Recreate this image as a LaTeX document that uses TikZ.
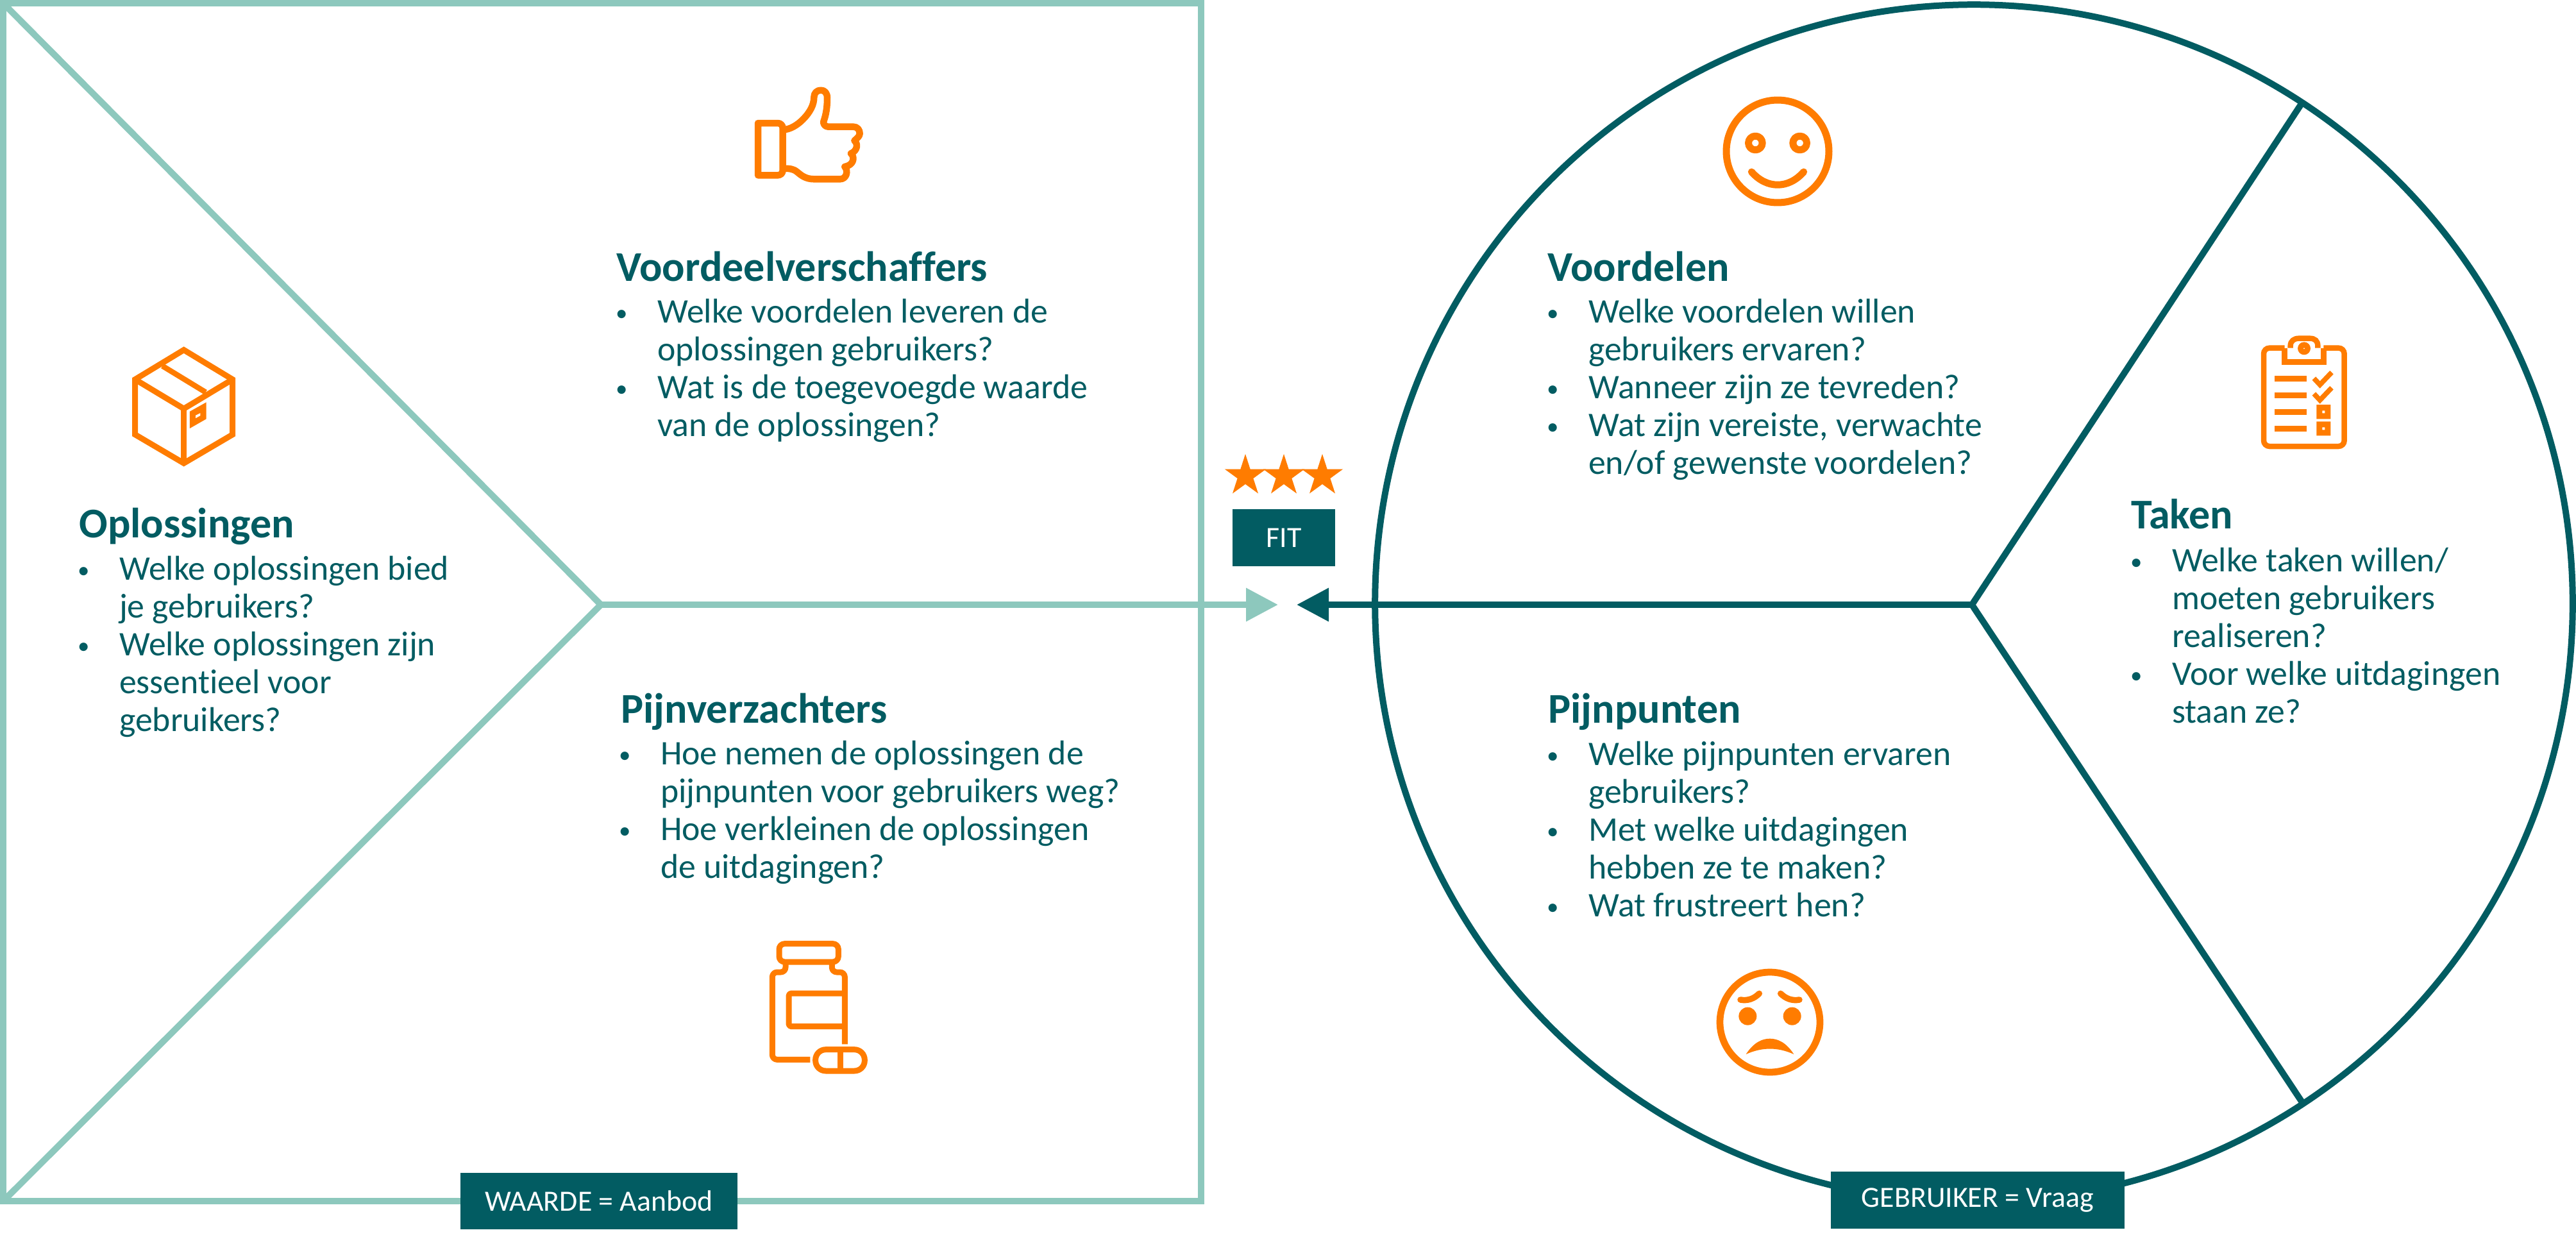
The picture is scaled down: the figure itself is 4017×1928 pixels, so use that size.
\documentclass[tikz,border=0pt]{standalone}
\usepackage{fontspec}
\setmainfont{Carlito}[Ligatures=NoCommon]
\usetikzlibrary{arrows.meta}
\definecolor{dteal}{HTML}{025C62}
\definecolor{lteal}{HTML}{8DC8BD}
\definecolor{iconor}{HTML}{FF7C00}
\newcommand{\hb}[1]{\makebox[38pt][l]{\hspace*{1pt}\raisebox{1.6pt}{\fontsize{21}{21}\selectfont •}}#1}
\newcommand{\hc}[1]{\hspace*{38pt}#1}
\newcommand{\fl}{\rule{0pt}{25pt}}
\tikzset{
  sqline/.style={draw=lteal,line width=0.2cm,line join=miter},
  cirline/.style={draw=dteal,line width=0.2cm},
  tag/.style={fill=dteal,text=white,inner sep=0,font=\fontsize{26.1}{28}\selectfont},
  ttl/.style={anchor=base west,inner sep=0,text=dteal,font=\fontsize{37.6}{40}\selectfont\bfseries},
  bodytxt/.style={anchor=north west,inner sep=0,text=dteal,align=left,font=\fontsize{30.6}{33.57}\selectfont},
  icon/.style={shift={(#1)},x=0.0066667cm,y=-0.0066667cm,draw=iconor,line width=0.18cm,line join=round},
  starshape/.pic={\fill[iconor] (0,-34)--(7.6,-10.5)--(32.3,-10.5)--(12.4,4)--(20,27.5)--(0,13)--(-20,27.5)--(-12.4,4)--(-32.3,-10.5)--(-7.6,-10.5)--cycle;}
}
\begin{document}
\begin{tikzpicture}[x=0.02cm,y=-0.02cm]
\useasboundingbox (0,0) rectangle (4017,1928);
% coordinates
\coordinate (tl) at (5,5); \coordinate (tr) at (1873,5);
\coordinate (br) at (1873,1873); \coordinate (bl) at (5,1873);
\coordinate (jL) at (937,943);
\coordinate (tipL) at (1993,943);
\coordinate (cc) at (3078,941);
\coordinate (jR) at (3075,943);
\coordinate (tipR) at (2022,943);
\coordinate (radT) at (3592,157);
\coordinate (radB) at (3590,1719);
% square
\draw[sqline] (tl)--(tr)--(br)--(bl)--cycle;
\draw[sqline,line join=bevel] (tl)--(jL)--(bl);
\draw[sqline,-{Triangle[length=1cm,width=1cm]}] (jL)--(tipL);
% circle
\draw[cirline] (cc) circle (18.68cm);
\draw[cirline,line join=bevel] (radT)--(jR)--(radB);
\draw[cirline,-{Triangle[length=1cm,width=1cm]}] (jR)--(tipR);
% tags
\node[tag,minimum width=3.2cm,minimum height=1.78cm] (fit) at (2002,838.5) {FIT};
\node[tag,minimum width=8.64cm,minimum height=1.76cm] (waarde) at (934,1873) {WAARDE = Aanbod};
\node[tag,minimum width=9.17cm,minimum height=1.78cm] (gebruiker) at (3084,1871.5) {GEBRUIKER = Vraag};
% stars
\pic at (1942,742) {starshape};
\pic at (2002,742) {starshape};
\pic at (2062,742) {starshape};
% text
\node[ttl] (t1) at (123,838) {Oplossingen};
\node[bodytxt] (b1) at (119,860) {\hb{\fl Welke oplossingen bied}\\\hc{je gebruikers?}\\\hb{Welke oplossingen zijn}\\\hc{essentieel voor}\\\hc{gebruikers?}};
\node[ttl] (t2) at (961,438) {Voordeelverschaffers};
\node[bodytxt] (b2) at (958,459) {\hb{\fl Welke voordelen leveren de}\\\hc{oplossingen gebruikers?}\\\hb{Wat is de toegevoegde waarde}\\\hc{van de oplossingen?}};
\node[ttl] (t3) at (968,1127) {Pijnverzachters};
\node[bodytxt] (b3) at (963,1148) {\hb{\fl Hoe nemen de oplossingen de}\\\hc{pijnpunten voor gebruikers weg?}\\\hb{Hoe verkleinen de oplossingen}\\\hc{de uitdagingen?}};
\node[ttl] (t4) at (2413,438) {Voordelen};
\node[bodytxt] (b4) at (2410,459) {\hb{\fl Welke voordelen willen}\\\hc{gebruikers ervaren?}\\\hb{Wanneer zijn ze tevreden?}\\\hb{Wat zijn vereiste, verwachte}\\\hc{en/of gewenste voordelen?}};
\node[ttl] (t5) at (3323,824) {Taken};
\node[bodytxt] (b5) at (3320,847) {\hb{\fl Welke taken willen/}\\\hc{moeten gebruikers}\\\hc{realiseren?}\\\hb{Voor welke uitdagingen}\\\hc{staan ze?}};
\node[ttl] (t6) at (2414,1127) {Pijnpunten};
\node[bodytxt] (b6) at (2410,1149) {\hb{\fl Welke pijnpunten ervaren}\\\hc{gebruikers?}\\\hb{Met welke uitdagingen}\\\hc{hebben ze te maken?}\\\hb{Wat frustreert hen?}};
% thumb icon
\begin{scope}[icon={1100,120},line width=0.21cm]
\draw (246,216) -- (338,216) .. controls (352,216) and (362,226) .. (362,240) -- (362,436) .. controls (362,450) and (352,460) .. (338,460) -- (246,460) -- cycle;
\draw (362,247) .. controls (395,247) and (430,225) .. (455,200) .. controls (490,165) and (508,130) .. (508,95) .. controls (508,75) and (522,62) .. (540,62) .. controls (558,62) and (570,75) .. (570,98) .. controls (570,140) and (565,175) .. (553,208) .. controls (550,222) and (562,233) .. (575,233) -- (692,233) .. controls (712,233) and (722,248) .. (722,265) .. controls (722,278) and (708,288) .. (697,298) .. controls (715,312) and (712,345) .. (681,358) .. controls (700,375) and (695,412) .. (652,420) .. controls (670,440) and (660,478) .. (630,478) -- (510,478) .. controls (470,478) and (450,462) .. (430,445) .. controls (415,432) and (400,428) .. (362,428);
\end{scope}
% box icon
\begin{scope}[icon={170,510},line width=0.18cm,line join=miter]
\draw (350,107) -- (578,245) -- (578,503) -- (350,637) -- (122,503) -- (122,245) -- cycle;
\draw (122,245) -- (350,382) -- (578,245);
\draw (350,382) -- (350,637);
\draw[line width=0.17cm] (250,182) -- (452,305);
\fill[iconor,even odd rule] (378,395)--(455,352)--(455,430)--(378,474)--cycle (405,413)--(427,402)--(427,415)--(405,427)--cycle;
\end{scope}
% bottle icon
\begin{scope}[icon={1160,1440},line cap=butt]
\draw[rounded corners=0.17cm] (165,95) rectangle (442,180);
\draw[rounded corners=0.15cm] (195,180) -- (195,228) -- (133,228) -- (133,637) -- (310,637);
\draw[rounded corners=0.15cm] (412,180) -- (412,228) -- (472,228) -- (472,565);
\draw[rounded corners=0.08cm] (472,327) -- (210,327) -- (210,482) -- (472,482);
\draw[rounded corners=0.32cm] (335,590) rectangle (565,690);
\draw (450,590) -- (450,690);
\end{scope}
% clipboard icon
\begin{scope}[icon={3490,500},line width=0.17cm,line join=miter]
\draw[rounded corners=0.18cm] (218,128) -- (120,128) -- (120,588) -- (497,588) -- (497,128) -- (400,128);
\draw (218,128) -- (218,193) -- (400,193) -- (400,128);
\draw (245,128) -- (245,118) .. controls (245,95) and (262,83) .. (285,83) -- (335,83) .. controls (360,83) and (373,95) .. (373,118) -- (373,128);
\fill[iconor] (309,130) circle (0.2cm);
\fill[white] (309,130) circle (0.02cm);
\foreach \yy in {271,349,427,505} \draw[line width=0.18cm] (172,\yy) -- (322,\yy);
\draw[line width=0.155cm] (355,270) -- (383,300) -- (438,242);
\draw[line width=0.155cm] (355,342) -- (383,372) -- (438,314);
\fill[iconor,even odd rule] (367,393) rectangle (433,460) (394,421) rectangle (406,433);
\fill[iconor,even odd rule] (367,472) rectangle (433,538) (394,499) rectangle (406,511);
\end{scope}
% smile icon
\begin{scope}[icon={2660,130},line width=0.22cm]
\draw (336,318) circle (1.6cm);
\draw (232,279) circle (0.217cm);
\draw (440,279) circle (0.217cm);
\draw[line cap=round] (214,414) .. controls (285,495) and (387,495) .. (458,414);
\end{scope}
% sad icon
\begin{scope}[icon={2640,1480},line width=0.215cm]
\draw (360,342) circle (1.56cm);
\draw[line cap=round,line width=0.19cm] (222,237) .. controls (255,243) and (285,233) .. (310,208);
\draw[line cap=round,line width=0.19cm] (410,208) .. controls (435,233) and (465,243) .. (498,237);
\fill[iconor] (256,314) circle (0.28cm);
\fill[iconor] (464,314) circle (0.28cm);
\fill[iconor] (248,492) .. controls (285,435) and (325,419) .. (360,419) .. controls (395,419) and (435,435) .. (472,492) .. controls (395,458) and (325,458) .. (248,492) -- cycle;
\end{scope}
\end{tikzpicture}
\end{document}
